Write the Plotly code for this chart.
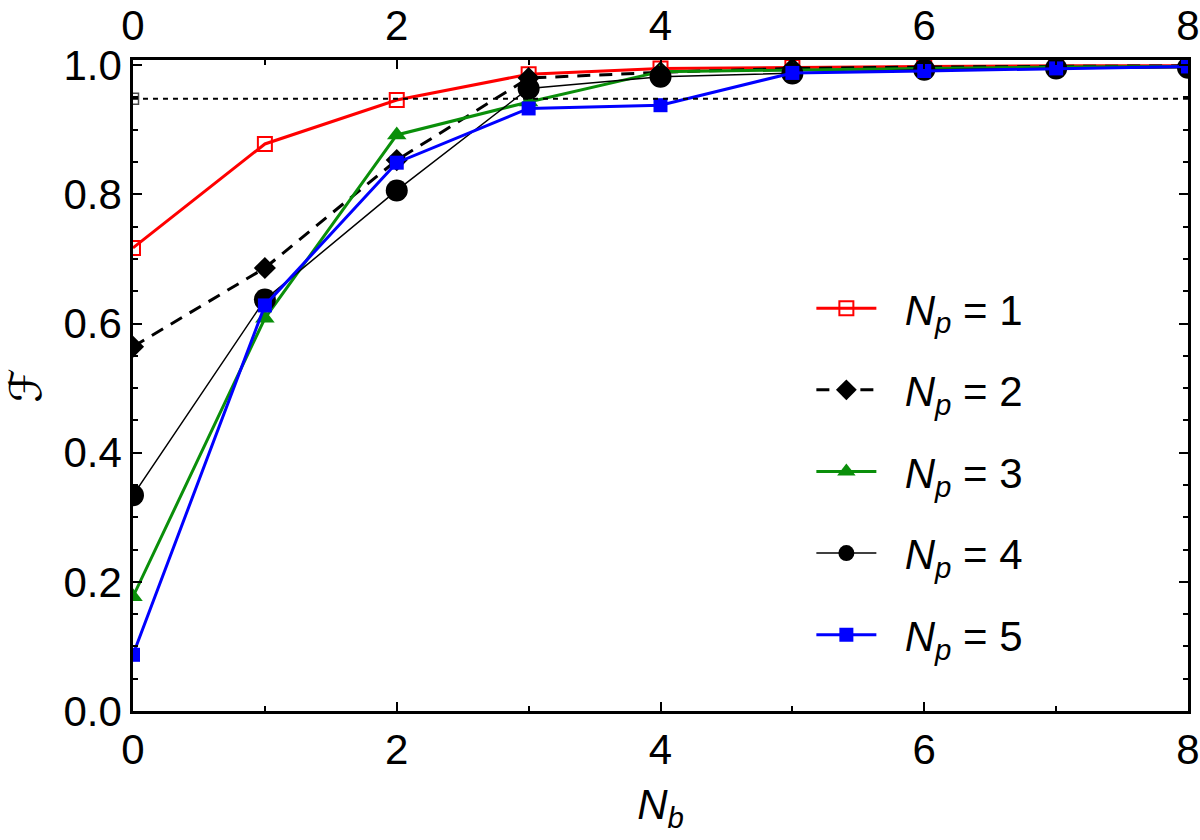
import plotly.graph_objects as go

nb = [0, 1, 2, 3, 4, 5, 6, 7, 8]
f_np1 = [0.717, 0.878, 0.946, 0.986, 0.995, 0.997, 0.998, 0.999, 0.999]
f_np2 = [0.564, 0.686, 0.853, 0.980, 0.989, 0.995, 0.997, 0.998, 0.999]
f_np3 = [0.177, 0.608, 0.892, 0.943, 0.990, 0.993, 0.995, 0.997, 0.998]
f_np4 = [0.334, 0.637, 0.806, 0.964, 0.982, 0.987, 0.993, 0.995, 0.996]
f_np5 = [0.087, 0.628, 0.849, 0.933, 0.938, 0.988, 0.991, 0.995, 0.998]
threshold_x = [0, 8]
threshold_y = [0.948, 0.948]
labels = ["1", "2", "3", "4", "5"]

FONT = "Liberation Sans, Arial, Helvetica, sans-serif"
FS = 42

fig = go.Figure()

series = [
    (f_np1, dict(color="red", width=3), dict(symbol="square-open", size=14, color="red", line=dict(width=2, color="red"))),
    (f_np2, dict(color="black", width=3, dash="13px,9px"), dict(symbol="diamond", size=17, color="black")),
    (f_np3, dict(color="#0a8f0a", width=3), dict(symbol="triangle-up", size=17, color="#0a8f0a")),
    (f_np4, dict(color="black", width=1.5), dict(symbol="circle", size=22, color="black")),
    (f_np5, dict(color="blue", width=3), dict(symbol="square", size=14, color="blue")),
]

for i, (vals, ln, mk) in enumerate(series):
    fig.add_trace(go.Scatter(
        x=nb, y=vals, mode="lines+markers",
        name="&nbsp;&nbsp;<i>N<sub>p</sub></i> = " + labels[i],
        legendgroup="g" + labels[i],
        line=ln, marker=mk))

# threshold line drawn on the mirrored (top/right) axes, same ranges
fig.add_trace(go.Scatter(
    x=threshold_x, y=threshold_y, mode="lines+markers", showlegend=False,
    xaxis="x2", yaxis="y2",
    line=dict(color="black", width=2, dash="5px,5px"),
    marker=dict(symbol="square-open", size=[11, 0], color="black", line=dict(width=1.5)),
    hoverinfo="skip"))

axis_common = dict(
    showline=True, linecolor="black", linewidth=2.5, mirror=False,
    ticks="inside", ticklen=9, tickwidth=2, tickcolor="black",
    showgrid=False, zeroline=False, automargin=False,
    tickfont=dict(family=FONT, size=FS, color="black"),
)
xminor = dict(tickvals=[1, 3, 5, 7], ticks="inside", ticklen=5, tickwidth=1.5, tickcolor="black")
yminor = dict(dtick=0.05, tick0=0, ticks="inside", ticklen=5, tickwidth=1.5, tickcolor="black")
YR = [0, 1.008]

fig.update_layout(
    width=1200, height=840,
    margin=dict(l=133, r=12, t=60, b=129),
    paper_bgcolor="white", plot_bgcolor="white",
    font=dict(family=FONT, size=FS, color="black"),
    xaxis=dict(range=[0, 8], tickvals=[0, 2, 4, 6, 8], minor=xminor,
               title=dict(text="<i>N<sub>b</sub></i>", font=dict(family=FONT, size=FS), standoff=18),
               **axis_common),
    xaxis2=dict(range=[0, 8], tickvals=[0, 2, 4, 6, 8], overlaying="x", side="top", minor=xminor,
                **axis_common),
    yaxis=dict(range=YR, tickvals=[0, 0.2, 0.4, 0.6, 0.8, 1.0], ticktext=["0.0", "0.2", "0.4", "0.6", "0.8", "1.0"],
               minor=yminor,
               title=dict(text="ℱ", font=dict(family="DejaVu Sans, sans-serif", size=44), standoff=26),
               **axis_common),
    yaxis2=dict(range=YR, tickvals=[0, 0.2, 0.4, 0.6, 0.8, 1.0], overlaying="y", side="right",
                showticklabels=False, minor=yminor, **axis_common),
    legend=dict(x=0.643, y=0.368, xanchor="left", yanchor="middle",
                bgcolor="rgba(0,0,0,0)", font=dict(family=FONT, size=FS),
                tracegroupgap=24, itemwidth=60),
)

fig.write_html("out.html")
